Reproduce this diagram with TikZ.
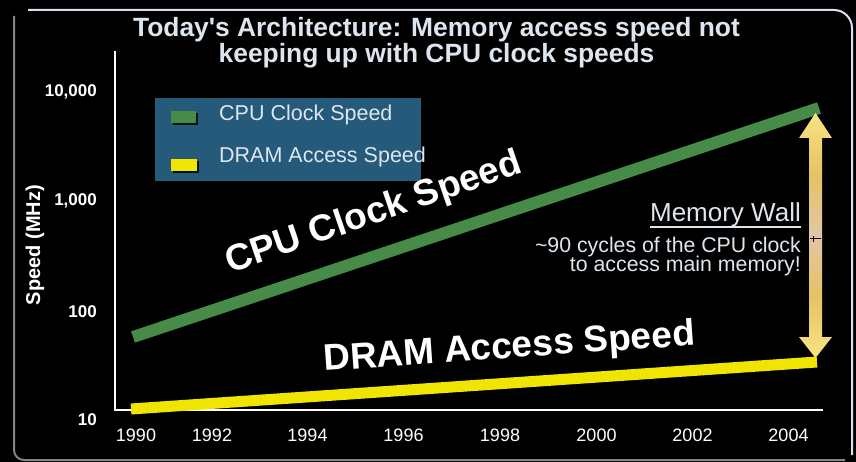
\documentclass[tikz,border=0pt]{standalone}
\usepackage{fontspec}
\setmainfont{Liberation Sans}
\definecolor{titlecol}{HTML}{DDE6EE}
\definecolor{legbox}{HTML}{255A7B}
\definecolor{cpugreen}{HTML}{478B48}
\definecolor{dramyellow}{HTML}{F0E500}
\definecolor{framegray}{HTML}{80868E}
\definecolor{framelight}{HTML}{D8E2EE}
\definecolor{aY}{HTML}{F8E482}
\definecolor{aG}{HTML}{E6C264}
\definecolor{aP}{HTML}{E2C6A6}
\pgfdeclareverticalshading{wallarrow}{100bp}{color(0bp)=(aY); color(25bp)=(aY); color(37.5bp)=(aG); color(50bp)=(aP); color(62.5bp)=(aG); color(75bp)=(aY); color(100bp)=(aY)}
\tikzset{
  ticklab/.style={text=white, inner sep=0pt, font=\fontsize{18}{20}\selectfont},
  ylab/.style={text=white, inner sep=0pt, font=\bfseries\fontsize{17}{19}\selectfont},
  legtext/.style={text=titlecol, inner sep=0pt, anchor=base west, font=\fontsize{21.5}{23}\selectfont},
  bigtext/.style={text=white, inner sep=0pt, anchor=base, font=\bfseries\fontsize{37}{40}\selectfont},
  walltext/.style={text=titlecol, inner sep=0pt, anchor=base east, font=\fontsize{21.3}{23}\selectfont},
  titletext/.style={text=titlecol, inner sep=0pt, anchor=base, font=\bfseries\fontsize{26.4}{27}\selectfont},
}
\begin{document}
\begin{tikzpicture}[x=1pt,y=-1pt]
\useasboundingbox (0,0) rectangle (856,462);
\fill[black] (0,0) rectangle (856,462);
% frame
\draw[framegray, line width=2pt] (14,16) -- (14,450) arc[start angle=180, end angle=90, radius=10] -- (845,460);
\draw[framelight, line width=2pt] (28,10) -- (834,10) arc[start angle=270, end angle=360, radius=18] -- (852,455);
% title
\node[titletext] (t1) at (436.5,37) {Today\textquotesingle s Architecture: Memory access speed not};
\node[titletext] (t2) at (436.5,63) {keeping up with CPU clock speeds};
% axes
\coordinate (otop) at (115,51);
\coordinate (orig) at (115,410);
\coordinate (xend) at (823,410);
\draw[white, line width=2pt] (otop) -- (orig) -- (xend);
% y labels
\node[ylab, anchor=base east] (y4) at (97,97) {10,000};
\node[ylab, anchor=base east] (y3) at (97,206) {1,000};
\node[ylab, anchor=base east] (y2) at (97,317) {100};
\node[ylab, anchor=base east] (y1) at (97,425) {10};
\node[text=white, inner sep=0pt, rotate=90, font=\bfseries\fontsize{20}{22}\selectfont] (yt) at (35,245) {Speed (MHz)};
% x labels
\foreach \yr/\xx in {1990/136,1992/212,1994/307.5,1996/403.5,1998/500,2000/596.5,2002/692.5,2004/788.5}{
  \node[ticklab, anchor=base] (x\yr) at (\xx,441) {\yr};
}
% legend
\fill[legbox] (155,98) rectangle (421,181);
\fill[black!80!legbox] (173,113) rectangle (198,125);
\fill[cpugreen] (171,111) rectangle (196,123);
\fill[black!80!legbox] (173,161) rectangle (199,173);
\fill[dramyellow] (171,159) rectangle (197,171);
\node[legtext] (l1) at (219,121) {CPU Clock Speed};
\node[legtext] (l2) at (219,163) {DRAM Access Speed};
% data lines
\coordinate (c0) at (133,337);
\coordinate (c1) at (819,108);
\coordinate (d0) at (131,409);
\coordinate (d1) at (817,362);
\draw[cpugreen, line width=12pt] (c0) -- (c1);
\draw[dramyellow, line width=11pt] (d0) -- (d1);
% big labels
\node[bigtext, rotate=19] (cpu) at (377,223) {CPU Clock Speed};
\node[bigtext, rotate=4] (dram) at (510,358) {DRAM Access Speed};
% memory wall arrow
\shade[shading=wallarrow] (815.5,113) -- (832,138) -- (822,138) -- (822,337) -- (832,337) -- (815.5,358) -- (799,337) -- (809,337) -- (809,138) -- (799,138) -- cycle;
\draw[black, line width=1pt] (810,239) -- (821,239) (813,236) -- (813,242);
% memory wall text
\node[walltext, font=\fontsize{26}{28}\selectfont] (mw) at (801,222) {Memory Wall};
\draw[titlecol, line width=1.5pt] ([yshift=-5pt]mw.base west) -- ([yshift=-5pt]mw.base east);
\node[walltext] (m1) at (801,252) {\textasciitilde 90 cycles of the CPU clock};
\node[walltext] (m2) at (801,272) {to access main memory!};
\end{tikzpicture}
\end{document}
